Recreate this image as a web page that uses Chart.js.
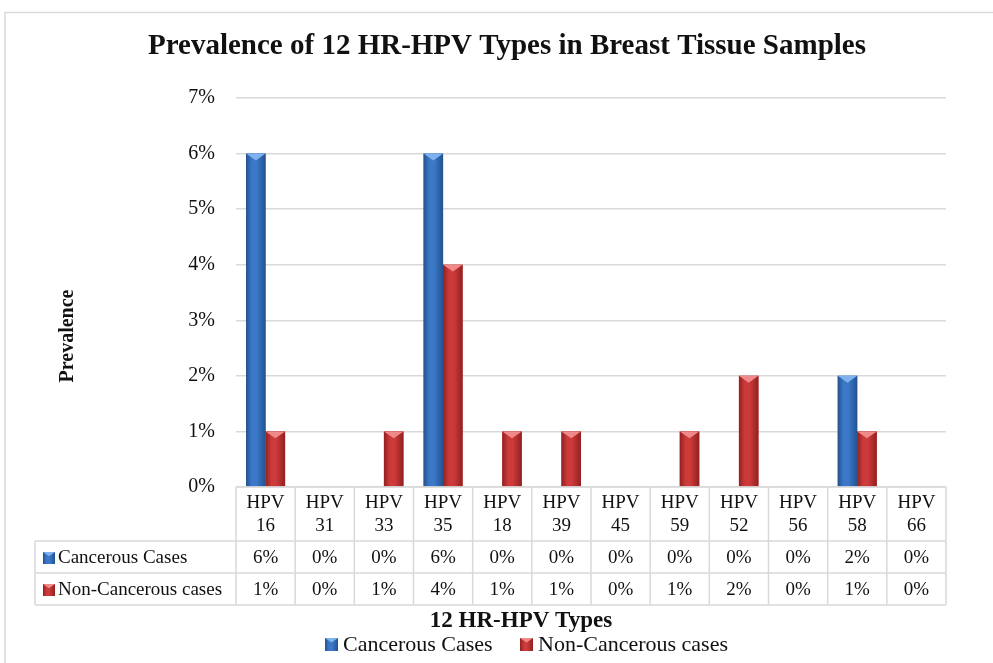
<!DOCTYPE html>
<html><head><meta charset="utf-8">
<script src="https://cdn.jsdelivr.net/npm/chart.js@4.4.0/dist/chart.umd.min.js"></script>
<style>html,body{margin:0;padding:0;background:#fff}canvas{display:block}</style>
</head><body>
<canvas id="c" width="993" height="663" style="width:993px;height:663px"></canvas>
<script>
// ---- data ----
const categories = [['HPV','16'],['HPV','31'],['HPV','33'],['HPV','35'],['HPV','18'],['HPV','39'],['HPV','45'],['HPV','59'],['HPV','52'],['HPV','56'],['HPV','58'],['HPV','66']];
const seriesNames = ['Cancerous Cases','Non-Cancerous cases'];
const cancerous = [6,0,0,6,0,0,0,0,0,0,2,0];
const nonCancerous = [1,0,1,4,1,1,0,1,2,0,1,0];
const yTickMax = 7;
const chartTitle = 'Prevalence of 12 HR-HPV Types in Breast Tissue Samples';
const xTitle = '12 HR-HPV Types';
const yTitle = 'Prevalence';

const FONT = "'Liberation Serif', 'Times New Roman', serif";
const palette = [
  {main:'#3b78c7', dark:'#24528f', light:'#7fb2ee'},
  {main:'#cc3a3a', dark:'#922020', light:'#f08a8a'}
];

function shadeRect(ctx, x0, x1, y0, y1, p) {
  const g = ctx.createLinearGradient(x0, 0, x1, 0);
  g.addColorStop(0, p.dark);
  g.addColorStop(0.3, p.main);
  g.addColorStop(0.55, p.main);
  g.addColorStop(1, p.dark);
  ctx.fillStyle = g;
  ctx.fillRect(x0, y0, x1 - x0, y1 - y0);
}
function topCap(ctx, x0, x1, y0, p) {
  const w = x1 - x0;
  const h = Math.min(7, w * 0.35);
  ctx.beginPath();
  ctx.moveTo(x0, y0);
  ctx.lineTo(x1, y0);
  ctx.lineTo((x0 + x1) / 2, y0 + h);
  ctx.closePath();
  ctx.fillStyle = p.light;
  ctx.fill();
}

const decor = {
  id: 'decor',
  beforeDraw(chart) {
    const ctx = chart.ctx;
    ctx.save();
    ctx.fillStyle = '#fff';
    ctx.fillRect(0, 0, chart.width, chart.height);
    ctx.strokeStyle = '#d9d9d9';
    ctx.lineWidth = 1.5;
    ctx.strokeRect(5, 12.5, 1100, 800);
    ctx.restore();
  },
  afterDatasetsDraw(chart) {
    const ctx = chart.ctx;
    ctx.save();
    chart.data.datasets.forEach((ds, di) => {
      const meta = chart.getDatasetMeta(di);
      meta.data.forEach((bar, i) => {
        if (!ds.data[i]) return;
        const x0 = bar.x - bar.width / 2, x1 = bar.x + bar.width / 2;
        shadeRect(ctx, x0, x1, bar.y, bar.base, palette[di]);
        topCap(ctx, x0, x1, bar.y, palette[di]);
      });
    });
    ctx.restore();
  },
  afterDraw(chart) {
    const ctx = chart.ctx;
    const a = chart.chartArea;
    const xs = chart.scales.x;
    const n = categories.length;
    const colW = (a.right - a.left) / n;
    const top = a.bottom;
    const headerH = 54, rowH = 32;
    const tableLeft = 35;
    const bottom = top + headerH + 2 * rowH;
    ctx.save();
    ctx.strokeStyle = '#d9d9d9';
    ctx.lineWidth = 1.5;
    ctx.beginPath();
    ctx.moveTo(a.left, top); ctx.lineTo(a.right, top);
    for (let r = 1; r <= 3; r++) {
      const y = top + headerH + (r - 1) * rowH;
      ctx.moveTo(tableLeft, y); ctx.lineTo(a.right, y);
    }
    for (let i = 0; i <= n; i++) {
      const x = (i < n ? xs.getPixelForValue(i) - colW / 2 : xs.getPixelForValue(n - 1) + colW / 2);
      ctx.moveTo(x, top); ctx.lineTo(x, bottom);
    }
    ctx.moveTo(tableLeft, top + headerH); ctx.lineTo(tableLeft, bottom);
    ctx.stroke();

    ctx.fillStyle = '#111';
    ctx.font = '19px ' + FONT;
    ctx.textAlign = 'center';
    ctx.textBaseline = 'middle';
    categories.forEach((c, i) => {
      const cx = xs.getPixelForValue(i);
      ctx.fillText(c[0], cx, top + 16);
      ctx.fillText(c[1], cx, top + 39);
    });
    const rows = [cancerous, nonCancerous];
    rows.forEach((vals, r) => {
      const cy = top + headerH + r * rowH + rowH / 2 + 1;
      vals.forEach((v, i) => {
        ctx.fillText(v + '%', xs.getPixelForValue(i), cy);
      });
      const kx = 43, ky = cy - 6, ks = 12;
      shadeRect(ctx, kx, kx + ks, ky, ky + ks, palette[r]);
      topCap(ctx, kx, kx + ks, ky, palette[r]);
      ctx.fillStyle = '#111';
      ctx.textAlign = 'left';
      ctx.fillText(seriesNames[r], 58, cy);
      ctx.textAlign = 'center';
    });

    // titles
    ctx.font = 'bold 29px ' + FONT;
    ctx.fillText(chartTitle, 507, 47);
    ctx.font = 'bold 23px ' + FONT;
    ctx.fillText(xTitle, 521, 621);
    ctx.save();
    ctx.translate(68, 336);
    ctx.rotate(-Math.PI / 2);
    ctx.font = 'bold 20px ' + FONT;
    ctx.fillText(yTitle, 0, 0);
    ctx.restore();

    // legend
    ctx.font = '22px ' + FONT;
    ctx.textAlign = 'left';
    const legendX = [325, 520];
    seriesNames.forEach((name, r) => {
      const bx = legendX[r], by = 638, bs = 13;
      shadeRect(ctx, bx, bx + bs, by, by + bs, palette[r]);
      topCap(ctx, bx, bx + bs, by, palette[r]);
      ctx.fillStyle = '#111';
      ctx.fillText(name, bx + 18, by + 7);
    });
    ctx.restore();
  }
};

new Chart(document.getElementById('c'), {
  type: 'bar',
  data: {
    labels: categories,
    datasets: [
      {label: seriesNames[0], data: cancerous, backgroundColor: palette[0].main, barPercentage: 1, categoryPercentage: 0.66},
      {label: seriesNames[1], data: nonCancerous, backgroundColor: palette[1].main, barPercentage: 1, categoryPercentage: 0.66}
    ]
  },
  options: {
    responsive: false,
    animation: false,
    layout: {padding: {left: 166, right: 47, top: 98, bottom: 176}},
    plugins: {legend: {display: false}, title: {display: false}, tooltip: {enabled: false}},
    scales: {
      x: {
        ticks: {display: false},
        grid: {display: false},
        border: {display: false},
        afterFit: s => { s.height = 0; }
      },
      y: {
        min: 0, max: yTickMax,
        ticks: {stepSize: 1, padding: 21, color: '#111', font: {family: FONT, size: 20}, callback: v => v + '%'},
        grid: {color: '#d9d9d9', lineWidth: 1.5, drawTicks: false},
        border: {display: false},
        afterFit: s => { s.width = 70; }
      }
    }
  },
  plugins: [decor]
});
</script>
</body></html>
